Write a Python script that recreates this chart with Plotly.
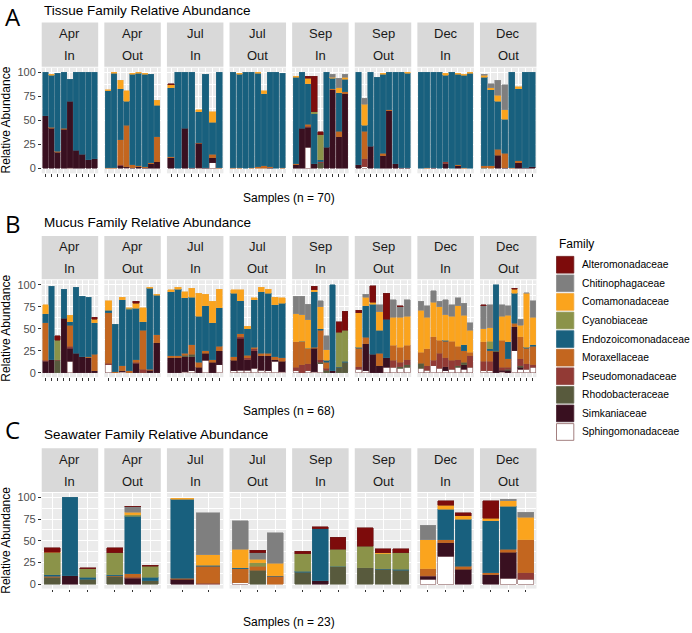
import plotly.graph_objects as go

W, H = 692, 633

# ---------------- data ----------------
FAMILIES = ["Alteromonadaceae", "Chitinophagaceae", "Comamonadaceae", "Cyanobiaceae",
            "Endozoicomonadaceae", "Moraxellaceae", "Pseudomonadaceae", "Rhodobacteraceae",
            "Simkaniaceae", "Sphingomonadaceae"]
COLORS = ["#7D0B0B", "#7F7F7F", "#FBA41D", "#8B9349", "#18607E", "#C3661F",
          "#923A35", "#585A3D", "#391020", "#FFFFFF"]
OUTLINES = ["#6E1A1A", "#8C8C8C", "#F0A63A", "#8E9555", "#2F6C86", "#B8692F",
            "#8E4642", "#63654C", "#4A2230", "#8C6060"]

MONTHS = ["Apr", "Apr", "Jul", "Jul", "Sep", "Sep", "Dec", "Dec"]
SITES = ["In", "Out", "In", "Out", "In", "Out", "In", "Out"]
Y_TICKS = [0, 25, 50, 75, 100]

# samples per facet
TISSUE_N = [9, 9, 8, 9, 9, 9, 9, 8]
MUCUS_N = [9, 8, 8, 8, 9, 8, 9, 9]
SEAWATER_N = [3, 3, 2, 3, 3, 3, 3, 3]

# rows = samples, columns = FAMILIES order (relative abundance %)
TISSUE = [
    # Apr In
    [0, 0, 0, 0, 45, 0, 0, 0, 55, 0], [0, 0, 1, 0, 54, 1, 0, 0, 42, 0], [0, 0, 0, 0, 81, 1, 0, 0, 17, 0],
    [0, 0, 0, 0, 58, 1, 0, 0, 41, 0], [0, 0, 0, 0, 23, 0, 0, 0, 69, 1], [0, 0, 0, 0, 81, 0, 0, 0, 19, 0],
    [0, 0, 0, 0, 85, 0, 0, 0, 15, 0], [0, 0, 0, 0, 91, 0, 0, 0, 9, 0], [0, 0, 0, 0, 90, 0, 0, 0, 10, 0],
    # Apr Out
    [0, 0, 1, 0, 80, 1, 0, 0, 0, 0], [0, 0, 1, 0, 98, 1, 0, 0, 0, 0], [0, 0, 9, 0, 53, 26, 1, 0, 3, 0],
    [0, 0, 11, 0, 25, 43, 0, 0, 1, 1], [0, 0, 1, 0, 94, 3, 0, 0, 1, 0], [0, 0, 1, 0, 96, 1, 0, 0, 2, 0],
    [0, 0, 1, 0, 96, 1, 0, 0, 1, 0], [0, 0, 0, 0, 92, 1, 0, 0, 5, 0], [0, 0, 5, 0, 33, 26, 0, 0, 7, 0],
    # Jul In
    [1, 0, 3, 0, 72, 1, 0, 0, 11, 0], [0, 0, 0, 0, 100, 0, 0, 0, 0, 0], [0, 0, 0, 0, 58, 0, 0, 0, 42, 0],
    [0, 0, 0, 0, 99, 0, 0, 0, 1, 0], [0, 0, 2, 0, 32, 1, 0, 0, 25, 1], [0, 0, 0, 0, 97, 0, 0, 0, 1, 0],
    [0, 0, 11, 0, 33, 4, 0, 0, 5, 6], [0, 0, 0, 0, 99, 1, 0, 0, 0, 0],
    # Jul Out
    [0, 0, 0, 0, 99, 1, 0, 0, 0, 0], [0, 0, 1, 0, 97, 1, 0, 0, 0, 0], [0, 0, 0, 0, 100, 0, 0, 0, 0, 0],
    [0, 0, 0, 0, 99, 1, 0, 0, 0, 0], [0, 0, 1, 0, 97, 2, 0, 0, 0, 0], [0, 0, 3, 0, 75, 3, 0, 0, 0, 0],
    [0, 0, 0, 0, 98, 1, 0, 0, 1, 0], [0, 0, 0, 0, 100, 0, 0, 0, 0, 0], [0, 0, 0, 0, 98, 1, 0, 0, 0, 0],
    # Sep In
    [0, 0, 1, 0, 90, 1, 0, 0, 4, 0], [0, 0, 0, 0, 58, 0, 0, 0, 42, 0], [2, 0, 6, 0, 42, 2, 1, 0, 21, 22],
    [37, 0, 0, 2, 52, 0, 0, 0, 5, 0], [3, 0, 0, 26, 2, 0, 1, 6, 0, 0], [0, 0, 0, 0, 78, 0, 0, 0, 22, 0],
    [0, 3, 1, 0, 11, 1, 0, 0, 82, 0], [0, 10, 5, 0, 40, 6, 0, 0, 33, 0], [0, 3, 2, 0, 13, 2, 0, 0, 78, 0],
    # Sep Out
    [0, 0, 0, 0, 96, 0, 0, 0, 4, 0], [0, 6, 22, 0, 6, 29, 8, 0, 0, 2], [0, 0, 0, 0, 77, 0, 0, 0, 23, 0],
    [0, 0, 0, 0, 95, 0, 0, 0, 0, 0], [0, 0, 1, 0, 82, 3, 0, 0, 13, 0], [0, 0, 0, 0, 39, 1, 0, 0, 60, 0],
    [0, 0, 0, 0, 95, 0, 0, 0, 5, 0], [0, 0, 0, 0, 99, 0, 0, 0, 1, 0], [0, 0, 1, 0, 98, 0, 0, 0, 1, 0],
    # Dec In
    [0, 0, 0, 0, 100, 0, 0, 0, 0, 0], [0, 0, 0, 0, 99, 1, 0, 0, 0, 0], [0, 0, 0, 0, 99, 0, 0, 0, 1, 0],
    [0, 0, 0, 0, 100, 0, 0, 0, 0, 0], [0, 0, 2, 0, 90, 0, 2, 0, 5, 0], [0, 0, 0, 0, 100, 0, 0, 0, 0, 0],
    [0, 0, 1, 0, 94, 1, 0, 0, 3, 0], [0, 0, 1, 0, 96, 1, 0, 0, 0, 0], [0, 0, 1, 0, 99, 0, 0, 0, 0, 0],
    # Dec Out
    [0, 1, 2, 0, 92, 2, 0, 1, 0, 0], [0, 4, 2, 0, 79, 3, 0, 0, 0, 0], [0, 16, 6, 0, 50, 6, 0, 0, 14, 0],
    [0, 26, 10, 0, 35, 15, 0, 0, 1, 0], [0, 0, 0, 0, 99, 1, 0, 0, 0, 0], [0, 0, 2, 0, 75, 2, 0, 0, 6, 0],
    [0, 0, 0, 0, 99, 0, 0, 0, 1, 0], [0, 0, 0, 0, 98, 0, 0, 0, 2, 0],
]

MUCUS = [
    # Apr In
    [0, 0, 10, 0, 10, 43, 1, 0, 13, 0], [0, 0, 0, 0, 83, 0, 0, 0, 15, 0], [5, 0, 0, 22, 0, 0, 1, 14, 0, 0],
    [0, 0, 0, 0, 33, 0, 0, 0, 62, 0], [0, 0, 7, 0, 4, 24, 2, 0, 15, 13], [0, 0, 0, 0, 75, 0, 0, 0, 22, 0],
    [0, 0, 0, 0, 69, 0, 0, 0, 18, 0], [0, 0, 0, 0, 68, 1, 0, 0, 17, 0], [2, 0, 4, 0, 36, 19, 0, 0, 2, 0],
    # Apr Out
    [0, 0, 11, 0, 3, 57, 2, 0, 0, 9], [0, 0, 0, 0, 54, 1, 0, 0, 0, 0], [0, 0, 3, 0, 75, 6, 0, 0, 1, 1],
    [0, 0, 1, 1, 70, 2, 0, 0, 0, 0], [2, 0, 6, 0, 58, 3, 1, 0, 11, 0], [0, 0, 16, 0, 10, 44, 4, 0, 0, 0],
    [0, 0, 1, 0, 92, 1, 0, 0, 3, 0], [0, 0, 1, 0, 45, 9, 0, 0, 34, 0],
    # Jul In
    [0, 0, 2, 0, 73, 2, 0, 0, 17, 0], [0, 0, 2, 0, 76, 2, 0, 0, 17, 0], [0, 0, 7, 0, 63, 2, 0, 2, 17, 1],
    [0, 0, 10, 0, 54, 11, 0, 3, 16, 2], [0, 0, 26, 0, 52, 6, 0, 0, 6, 0], [0, 0, 13, 0, 51, 3, 0, 0, 8, 14],
    [0, 0, 24, 0, 42, 3, 0, 0, 12, 0], [0, 0, 21, 0, 44, 5, 0, 0, 16, 9],
    # Jul Out
    [0, 0, 4, 0, 72, 4, 0, 0, 12, 2], [0, 0, 12, 0, 38, 3, 2, 0, 36, 3], [0, 0, 3, 0, 30, 3, 2, 0, 12, 3],
    [0, 0, 2, 0, 54, 2, 2, 0, 20, 5], [0, 0, 5, 0, 70, 3, 0, 0, 16, 3], [0, 0, 5, 0, 68, 3, 0, 0, 17, 2],
    [0, 0, 9, 0, 59, 3, 0, 0, 2, 13], [0, 0, 6, 0, 62, 4, 0, 0, 12, 1],
    # Sep In
    [0, 20, 32, 0, 0, 29, 4, 0, 0, 2], [0, 21, 30, 0, 1, 26, 9, 0, 0, 0], [0, 18, 32, 0, 1, 17, 8, 0, 0, 2],
    [4, 0, 2, 0, 63, 1, 0, 0, 27, 1], [0, 7, 25, 0, 2, 33, 3, 2, 0, 10], [0, 16, 12, 0, 2, 7, 2, 3, 0, 0],
    [0, 0, 0, 0, 98, 0, 0, 0, 2, 0], [12, 0, 0, 39, 1, 0, 0, 6, 0, 0], [22, 0, 0, 35, 1, 0, 0, 12, 0, 0],
    # Sep Out
    [3, 0, 39, 0, 1, 21, 3, 0, 0, 4], [0, 3, 10, 0, 36, 7, 0, 0, 31, 2], [19, 0, 2, 0, 57, 0, 0, 0, 21, 0],
    [0, 8, 21, 0, 26, 14, 0, 0, 8, 0], [29, 0, 0, 0, 44, 0, 0, 0, 11, 6], [0, 20, 32, 0, 0, 17, 8, 0, 0, 6],
    [1, 12, 34, 0, 0, 17, 5, 2, 0, 5], [0, 19, 33, 0, 0, 16, 6, 3, 0, 6],
    # Dec In
    [0, 10, 48, 0, 0, 12, 0, 6, 0, 5], [0, 13, 36, 0, 0, 19, 5, 0, 0, 3], [0, 13, 39, 0, 0, 27, 6, 0, 0, 8],
    [0, 6, 38, 0, 0, 15, 17, 0, 0, 5], [0, 17, 29, 0, 1, 19, 10, 0, 5, 2], [0, 13, 28, 0, 0, 22, 10, 0, 0, 4],
    [0, 9, 46, 0, 0, 15, 7, 2, 0, 6], [0, 14, 33, 0, 7, 13, 0, 3, 5, 4], [0, 9, 25, 0, 0, 4, 13, 0, 0, 6],
    # Dec Out
    [1, 26, 15, 0, 0, 22, 11, 0, 0, 2], [0, 26, 15, 9, 2, 12, 11, 0, 0, 2], [0, 0, 0, 0, 75, 0, 0, 1, 24, 0],
    [0, 13, 27, 0, 0, 31, 3, 0, 2, 1], [0, 11, 30, 0, 19, 10, 2, 1, 3, 0], [1, 0, 5, 0, 34, 4, 0, 0, 27, 25],
    [0, 7, 13, 0, 0, 25, 8, 2, 2, 4], [0, 1, 61, 0, 1, 18, 6, 0, 0, 4], [0, 19, 31, 0, 2, 21, 3, 0, 0, 6],
]

SEAWATER = [
    # Apr In
    [5, 0, 1, 25, 2, 1, 0, 8, 0, 0], [0, 0, 0, 0, 90, 0, 0, 0, 10, 0], [1, 0, 0, 10, 2, 0, 0, 6, 0, 0],
    # Apr Out
    [6, 0, 0, 25, 1, 1, 0, 9, 0, 0], [1, 6, 3, 2, 66, 4, 1, 0, 7, 0], [1, 0, 0, 13, 4, 0, 0, 4, 0, 0],
    # Jul In
    [0, 0, 1, 0, 91, 1, 0, 0, 6, 0], [0, 48, 12, 0, 1, 20, 1, 0, 0, 0],
    # Jul Out
    [0, 33, 21, 0, 1, 16, 0, 0, 0, 2], [3, 7, 4, 4, 0, 5, 0, 16, 0, 0], [0, 35, 14, 0, 1, 9, 0, 0, 0, 0],
    # Sep In
    [3, 0, 0, 20, 1, 0, 0, 14, 0, 0], [2, 0, 0, 0, 60, 0, 0, 0, 4, 0], [14, 0, 0, 19, 1, 0, 0, 20, 0, 0],
    # Sep Out
    [21, 0, 0, 25, 0, 0, 0, 19, 0, 0], [5, 0, 1, 17, 1, 0, 0, 17, 0, 0], [5, 0, 0, 19, 1, 0, 0, 16, 0, 0],
    # Dec In
    [0, 17, 33, 0, 0, 8, 1, 0, 3, 6], [5, 0, 5, 0, 35, 3, 0, 0, 16, 32], [3, 0, 4, 0, 54, 4, 0, 0, 17, 0],
    # Dec Out
    [20, 0, 3, 0, 60, 2, 0, 0, 11, 0], [0, 2, 6, 0, 50, 3, 0, 0, 30, 7], [0, 6, 26, 0, 0, 38, 7, 0, 0, 6],
]

# ---------------- layout geometry (pixels) ----------------
PANELS = [
    dict(rows=TISSUE, counts=TISSUE_N, label="A", title="Tissue Family Relative Abundance",
         xlab="Samples (n = 70)", label_y=14.5, title_y=8.5, strip=(20.7, 65.0),
         plot=(65.9, 172.1), xlab_y=197),
    dict(rows=MUCUS, counts=MUCUS_N, label="B", title="Mucus Family Relative Abundance",
         xlab="Samples (n = 68)", label_y=222.5, title_y=221.7, strip=(235.0, 278.6),
         plot=(279.6, 376.9), xlab_y=411),
    dict(rows=SEAWATER, counts=SEAWATER_N, label="C", title="Seawater Family Relative Abundance",
         xlab="Samples (n = 23)", label_y=430, title_y=435, strip=(448.3, 492.3),
         plot=(493.3, 589.4), xlab_y=623),
]
FACET_X0 = 41.7
FACET_STEP = 62.61
FACET_W = 56.5

FONT = "Liberation Sans, Arial, sans-serif"


def px(x):
    return x / W


def py(y):
    return 1 - y / H


fig = go.Figure()
layout = dict(width=W, height=H, margin=dict(l=0, r=0, t=0, b=0),
              paper_bgcolor="white", plot_bgcolor="#EBEBEB", barmode="stack",
              showlegend=False, bargap=0.1, font=dict(family=FONT, color="#1A1A1A"))
shapes = []
annotations = []

stack_order = list(range(len(FAMILIES)))[::-1]  # bottom -> top

ax = 0
for p in PANELS:
    top, bot = p["plot"]
    start = 0
    for f, n in enumerate(p["counts"]):
        ax += 1
        rows = p["rows"][start:start + n]
        start += n
        xs = list(range(1, n + 1))
        xname = "x" if ax == 1 else f"x{ax}"
        yname = "y" if ax == 1 else f"y{ax}"
        for k in stack_order:
            vals = [r[k] if r[k] > 0 else None for r in rows]
            if all(v is None for v in vals):
                continue
            fig.add_trace(go.Bar(
                x=xs, y=vals, xaxis=xname, yaxis=yname, width=0.9,
                marker=dict(color=COLORS[k], line=dict(color=OUTLINES[k], width=0.6)),
                name=FAMILIES[k], hoverinfo="name+y"))
        x0 = FACET_X0 + f * FACET_STEP
        x1 = x0 + FACET_W
        key = "" if ax == 1 else str(ax)
        layout["xaxis" + key] = dict(
            domain=[px(x0), px(x1)], range=[0.4, n + 0.6], anchor=yname,
            tickvals=xs, showticklabels=False, ticks="outside", ticklen=2.75,
            tickcolor="#333333", tickwidth=1, showgrid=True, gridcolor="white",
            gridwidth=1.07, zeroline=False, showline=False, fixedrange=True)
        first = (f == 0)
        layout["yaxis" + key] = dict(
            domain=[py(bot), py(top)], range=[-5, 105], anchor=xname,
            tickvals=Y_TICKS, showticklabels=first, ticks="outside" if first else "",
            ticklen=2.75, tickcolor="#333333", tickwidth=1,
            tickfont=dict(size=11, color="#4D4D4D", family=FONT),
            showgrid=True, gridcolor="white", gridwidth=1.07, zeroline=False,
            showline=False, fixedrange=True,
            minor=dict(tickvals=[12.5, 37.5, 62.5, 87.5], showgrid=True,
                       gridcolor="white", gridwidth=0.53))
        # strip
        s0, s1 = p["strip"]
        shapes.append(dict(type="rect", xref="paper", yref="paper",
                           x0=px(x0), x1=px(x1), y0=py(s1), y1=py(s0),
                           fillcolor="#D9D9D9", line=dict(width=0), layer="below"))
        sc = (s0 + s1) / 2
        for txt, yy in ((MONTHS[f], sc - 11), (SITES[f], sc + 11)):
            annotations.append(dict(text=txt, x=px((x0 + x1) / 2), y=py(yy), xref="paper",
                                    yref="paper", showarrow=False, xanchor="center",
                                    yanchor="middle", font=dict(size=13, color="#1A1A1A")))
    # panel texts
    annotations.append(dict(text=p["label"], x=px(3), y=py(p["label_y"]), xref="paper",
                            yref="paper", showarrow=False, xanchor="left", yanchor="middle",
                            font=dict(size=24, color="black", family="Open Sans, sans-serif")))
    annotations.append(dict(text=p["title"], x=px(41.7), y=py(p["title_y"]), xref="paper",
                            yref="paper", showarrow=False, xanchor="left", yanchor="middle",
                            font=dict(size=13.5, color="black")))
    annotations.append(dict(text=p["xlab"], x=px((FACET_X0 + FACET_X0 + 7 * FACET_STEP + FACET_W) / 2),
                            y=py(p["xlab_y"]), xref="paper", yref="paper", showarrow=False,
                            xanchor="center", yanchor="middle", font=dict(size=12, color="black")))
    annotations.append(dict(text="Relative Abundance", x=px(6), y=py((top + bot) / 2), xref="paper",
                            yref="paper", showarrow=False, textangle=-90, xanchor="center",
                            yanchor="middle", font=dict(size=12, color="black")))

# legend (drawn manually, ggplot style)
LEG_X = 556.5
LEG_Y0 = 264.0
LEG_DY = 18.67
annotations.append(dict(text="Family", x=px(LEG_X), y=py(LEG_Y0 - 21), xref="paper", yref="paper",
                        showarrow=False, xanchor="left", yanchor="middle",
                        font=dict(size=12, color="black")))
for i, fam in enumerate(FAMILIES):
    yc = LEG_Y0 + i * LEG_DY
    shapes.append(dict(type="rect", xref="paper", yref="paper",
                       x0=px(LEG_X), x1=px(LEG_X + 17.3), y0=py(yc + 8.4), y1=py(yc - 8.4),
                       fillcolor=COLORS[i], line=dict(color=OUTLINES[i], width=0.8)))
    annotations.append(dict(text=fam, x=px(LEG_X + 23.5), y=py(yc), xref="paper", yref="paper",
                            showarrow=False, xanchor="left", yanchor="middle",
                            font=dict(size=10.3, color="black")))

layout["shapes"] = shapes
layout["annotations"] = annotations
fig.update_layout(**layout)
# remove the default 8px page margin so the figure sits at the window origin
fig.write_html("out.html", config={"displayModeBar": False},
               post_script="document.body.style.margin='0px';")
